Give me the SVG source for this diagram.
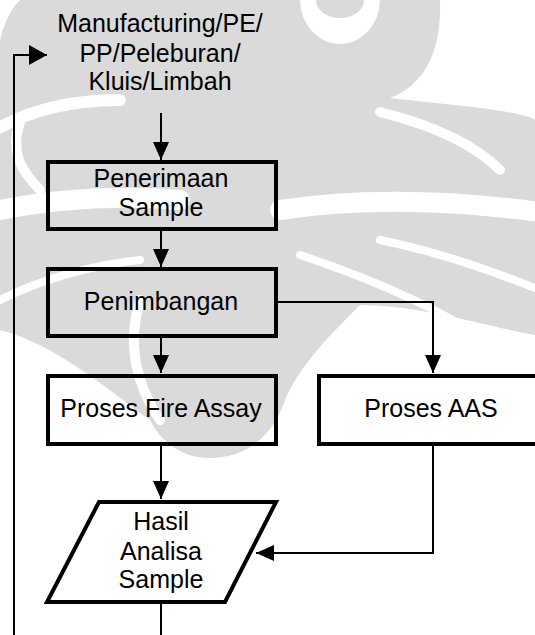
<svg xmlns="http://www.w3.org/2000/svg" width="535" height="635" viewBox="0 0 535 635">
  <style>
    .wm { fill: #dadada; stroke: none; }
    .wm-cut { fill: #ffffff; stroke: none; }
    .wm-line { fill: none; stroke: #ffffff; stroke-linecap: round; }
    .box { fill: none; stroke: #000; stroke-width: 4; stroke-linejoin: miter; }
    .lbl { font-family: "Liberation Sans", Arial, sans-serif; font-size: 25px; fill: #000; text-anchor: middle; }
    .edge { fill: none; stroke: #000; stroke-width: 2; }
  </style>
  <defs>
    <marker id="arrow" viewBox="0 0 18 16" refX="18" refY="8" markerWidth="18" markerHeight="16" markerUnits="userSpaceOnUse" orient="auto">
      <path d="M0,0 L18,8 L0,16 Z" fill="#000"/>
    </marker>
    <marker id="arrow-lg" viewBox="0 0 18 20" refX="18" refY="10" markerWidth="18" markerHeight="20" markerUnits="userSpaceOnUse" orient="auto">
      <path d="M0,0 L18,10 L0,20 Z" fill="#000"/>
    </marker>
  </defs>

  <rect width="535" height="635" fill="#ffffff"/>

  <!-- faint emblem in the background -->
  <g id="emblem">
    <path class="wm" d="M20,0 H440 C442,50 425,85 390,98 C450,105 520,110 535,120 V335 C480,325 420,305 360,305 C330,335 300,365 285,400 C272,440 242,458 210,458 C180,458 160,440 150,420 C120,400 60,345 0,330 V40 C5,20 12,8 20,0 Z"/>
    <path class="wm-cut" d="M300,0 A40,44 0 0 0 380,0 Z"/>
    <path class="wm" d="M316,0 A24,18 0 0 0 364,0 Z"/>
    <path class="wm-line" stroke-width="12" d="M-5,130 C30,110 70,100 120,100"/>
    <path class="wm-line" stroke-width="10" d="M40,190 C20,170 10,150 20,122"/>
    <path class="wm-line" stroke-width="20" d="M0,210 C60,198 120,195 180,200"/>
    <path class="wm-line" stroke-width="20" d="M280,210 C360,198 450,200 540,212"/>
    <path class="wm-line" stroke-width="10" d="M380,112 C420,122 470,140 500,170"/>
    <path class="wm-line" stroke-width="8" d="M300,255 C360,275 420,300 470,330"/>
    <path class="wm-line" stroke-width="8" d="M380,240 C430,250 490,270 540,290"/>
    <path class="wm-line" stroke-width="8" d="M0,300 C40,280 90,265 140,260"/>
    <path class="wm-line" stroke-width="10" d="M140,300 C128,340 133,380 160,420"/>
  </g>

  <!-- connectors -->
  <g id="connectors">
    <line class="edge" x1="161" y1="113" x2="161" y2="160" marker-end="url(#arrow)"/>
    <line class="edge" x1="161" y1="231" x2="161" y2="267" marker-end="url(#arrow)"/>
    <line class="edge" x1="161" y1="338" x2="161" y2="373" marker-end="url(#arrow)"/>
    <polyline class="edge" points="277,302 433,302 433,373" marker-end="url(#arrow)"/>
    <line class="edge" x1="161" y1="446" x2="161" y2="499" marker-end="url(#arrow)"/>
    <polyline class="edge" points="433,446 433,553 256,553" marker-end="url(#arrow)"/>
    <polyline class="edge" points="161,604 161,640"/>
    <polyline class="edge" points="14,640 14,55 47,55" marker-end="url(#arrow-lg)"/>
  </g>

  <!-- nodes -->
  <g id="source">
    <text class="lbl" x="160" y="32">Manufacturing/PE/</text>
    <text class="lbl" x="160" y="62">PP/Peleburan/</text>
    <text class="lbl" x="160" y="90">Kluis/Limbah</text>
  </g>

  <g id="penerimaan">
    <rect class="box" x="48" y="162" width="228" height="67"/>
    <text class="lbl" x="161" y="187">Penerimaan</text>
    <text class="lbl" x="161" y="216">Sample</text>
  </g>

  <g id="penimbangan">
    <rect class="box" x="48" y="269" width="228" height="67"/>
    <text class="lbl" x="161" y="310">Penimbangan</text>
  </g>

  <g id="fire-assay">
    <rect class="box" x="48" y="376" width="228" height="68"/>
    <text class="lbl" x="161" y="417">Proses Fire Assay</text>
  </g>

  <g id="aas">
    <rect class="box" x="319" y="376" width="300" height="68"/>
    <text class="lbl" x="431" y="417">Proses AAS</text>
  </g>

  <g id="hasil">
    <polygon class="box" points="99,502 276,502 225,602 47,602"/>
    <text class="lbl" x="161" y="530">Hasil</text>
    <text class="lbl" x="161" y="560">Analisa</text>
    <text class="lbl" x="161" y="588">Sample</text>
  </g>
</svg>
